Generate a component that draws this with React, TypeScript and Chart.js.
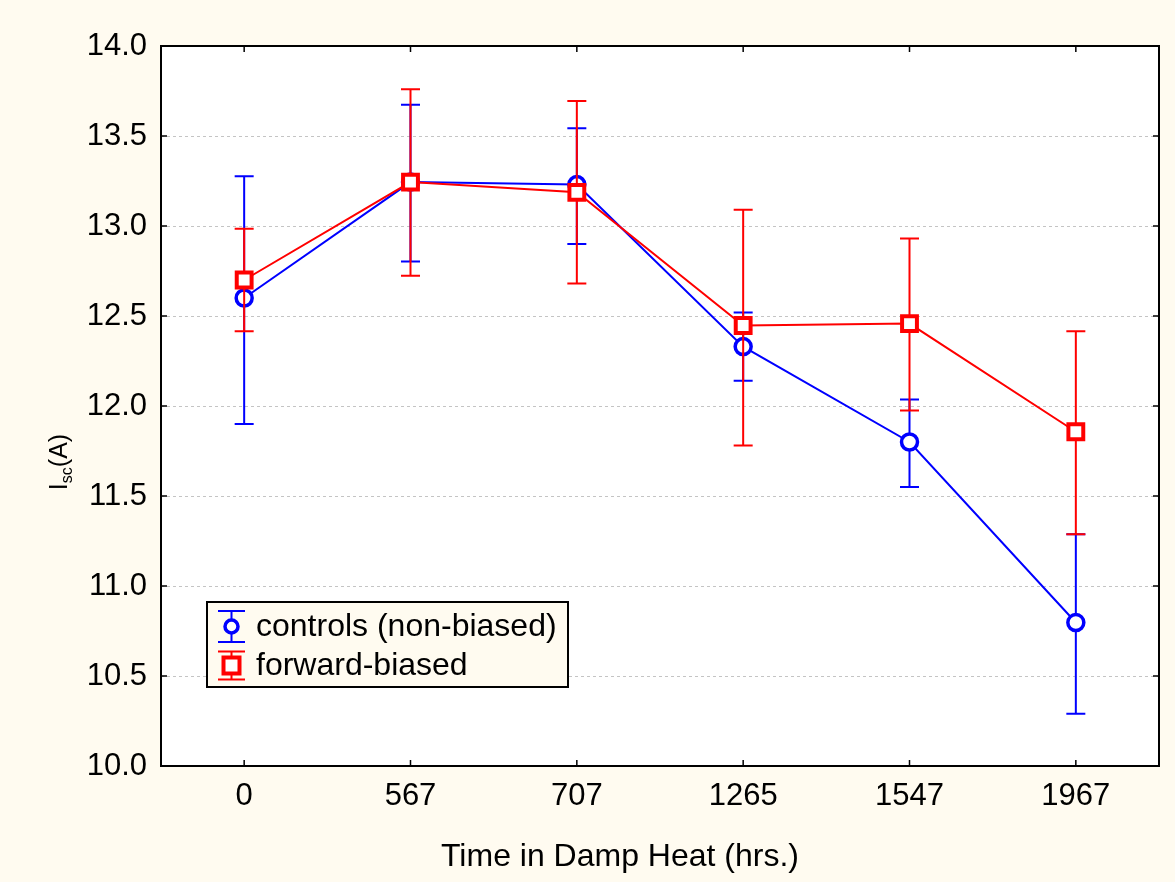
import React, { useEffect, useRef } from "react";
import { Chart, registerables } from "chart.js";

Chart.register(...registerables);

const categories = ["0", "567", "707", "1265", "1547", "1967"];

const controlsLabel = "controls (non-biased)";
const controlsMean = [12.6, 13.244, 13.23, 12.33, 11.8, 10.797];
const controlsLow = [11.9, 12.803, 12.9, 12.14, 11.55, 10.29];
const controlsHigh = [13.277, 13.673, 13.543, 12.52, 12.036, 11.287];

const biasedLabel = "forward-biased";
const biasedMean = [12.7, 13.244, 13.187, 12.447, 12.458, 11.857];
const biasedLow = [12.415, 12.724, 12.68, 11.78, 11.975, 11.287];
const biasedHigh = [12.985, 13.76, 13.695, 13.09, 12.93, 12.415];

const yTicks = [10.0, 10.5, 11.0, 11.5, 12.0, 12.5, 13.0, 13.5, 14.0];

const xTitle = "Time in Damp Heat (hrs.)";
const yTitleMain = "I";
const yTitleSub = "sc";
const yTitleUnit = "(A)";

const BG = "#fffbf0";
const BLUE = "#0000ff";
const RED = "#ff0000";
const FONT = "'Liberation Sans', Arial, sans-serif";

const lows = [controlsLow, biasedLow];
const highs = [controlsHigh, biasedHigh];

const customPlugin = {
  id: "custom",
  beforeDraw(chart: any) {
    const { ctx, chartArea } = chart;
    ctx.save();
    ctx.fillStyle = BG;
    ctx.fillRect(0, 0, chart.width, chart.height);
    ctx.fillStyle = "#ffffff";
    ctx.fillRect(chartArea.left, chartArea.top, chartArea.right - chartArea.left, chartArea.bottom - chartArea.top);
    ctx.restore();
  },
  beforeDatasetsDraw(chart: any) {
    const { ctx, chartArea } = chart;
    const y = chart.scales.y;
    ctx.save();
    ctx.strokeStyle = "#c4c4c4";
    ctx.lineWidth = 1;
    ctx.setLineDash([3, 3]);
    yTicks.forEach((v) => {
      if (v <= y.min || v >= y.max) return;
      const py = Math.round(y.getPixelForValue(v)) + 0.5;
      ctx.beginPath();
      ctx.moveTo(chartArea.left, py);
      ctx.lineTo(chartArea.right, py);
      ctx.stroke();
    });
    ctx.restore();
  },
  beforeDatasetDraw(chart: any, args: any) {
    const { ctx } = chart;
    const i = args.index;
    const ds = chart.data.datasets[i];
    const x = chart.scales.x;
    const y = chart.scales.y;
    ctx.save();
    ctx.strokeStyle = ds.borderColor;
    ctx.lineWidth = 2;
    const cap = 9.5;
    lows[i].forEach((lo: number, k: number) => {
      const hi = highs[i][k];
      const px = x.getPixelForValue(k);
      const pl = y.getPixelForValue(lo);
      const ph = y.getPixelForValue(hi);
      ctx.beginPath();
      ctx.moveTo(px, pl);
      ctx.lineTo(px, ph);
      ctx.moveTo(px - cap, pl);
      ctx.lineTo(px + cap, pl);
      ctx.moveTo(px - cap, ph);
      ctx.lineTo(px + cap, ph);
      ctx.stroke();
    });
    ctx.restore();
  },
  afterDraw(chart: any) {
    const { ctx, chartArea } = chart;
    const { left, right, top, bottom } = chartArea;
    const x = chart.scales.x;
    const y = chart.scales.y;
    ctx.save();
    // frame
    ctx.strokeStyle = "#000000";
    ctx.lineWidth = 2;
    ctx.strokeRect(left, top, right - left, bottom - top);
    // inward ticks
    ctx.lineWidth = 1.5;
    const tl = 6;
    ctx.beginPath();
    yTicks.forEach((v) => {
      const py = y.getPixelForValue(v);
      ctx.moveTo(left, py);
      ctx.lineTo(left + tl, py);
      ctx.moveTo(right, py);
      ctx.lineTo(right - tl, py);
    });
    categories.forEach((_, k) => {
      const px = x.getPixelForValue(k);
      ctx.moveTo(px, bottom);
      ctx.lineTo(px, bottom - tl);
      ctx.moveTo(px, top);
      ctx.lineTo(px, top + tl);
    });
    ctx.stroke();

    // x title
    ctx.fillStyle = "#000000";
    ctx.font = `32px ${FONT}`;
    ctx.textAlign = "center";
    ctx.textBaseline = "alphabetic";
    ctx.fillText(xTitle, 620, 866);

    // y title (rotated)
    ctx.save();
    ctx.translate(67, 462);
    ctx.rotate(-Math.PI / 2);
    const mainFont = `25px ${FONT}`;
    const subFont = `16px ${FONT}`;
    ctx.font = mainFont;
    const w1 = ctx.measureText(yTitleMain).width;
    const w3 = ctx.measureText(yTitleUnit).width;
    ctx.font = subFont;
    const w2 = ctx.measureText(yTitleSub).width;
    const total = w1 + w2 + w3;
    let cx = -total / 2;
    ctx.textAlign = "left";
    ctx.font = mainFont;
    ctx.fillText(yTitleMain, cx, 0);
    cx += w1;
    ctx.font = subFont;
    ctx.fillText(yTitleSub, cx, 5);
    cx += w2;
    ctx.font = mainFont;
    ctx.fillText(yTitleUnit, cx, 0);
    ctx.restore();

    // legend
    const lx = 207, ly = 602, lw = 361, lh = 85;
    ctx.fillStyle = BG;
    ctx.fillRect(lx, ly, lw, lh);
    ctx.strokeStyle = "#000000";
    ctx.lineWidth = 2;
    ctx.strokeRect(lx, ly, lw, lh);
    const entries = [
      { label: controlsLabel, color: BLUE, style: "circle", cy: 626.5, half: 15.5 },
      { label: biasedLabel, color: RED, style: "rect", cy: 665.5, half: 14 },
    ];
    entries.forEach((e) => {
      const mx = 231.5;
      ctx.strokeStyle = e.color;
      ctx.lineWidth = 2;
      ctx.beginPath();
      ctx.moveTo(mx, e.cy - e.half);
      ctx.lineTo(mx, e.cy + e.half);
      ctx.moveTo(mx - 13.5, e.cy - e.half);
      ctx.lineTo(mx + 13.5, e.cy - e.half);
      ctx.moveTo(mx - 13.5, e.cy + e.half);
      ctx.lineTo(mx + 13.5, e.cy + e.half);
      ctx.stroke();
      ctx.fillStyle = "#ffffff";
      ctx.beginPath();
      if (e.style === "circle") {
        ctx.lineWidth = 3.5;
        ctx.arc(mx, e.cy, 6.5, 0, Math.PI * 2);
      } else {
        ctx.lineWidth = 4;
        ctx.rect(mx - 8, e.cy - 8, 16, 16);
      }
      ctx.fill();
      ctx.stroke();
      ctx.fillStyle = "#000000";
      ctx.font = `32px ${FONT}`;
      ctx.textAlign = "left";
      ctx.textBaseline = "middle";
      ctx.fillText(e.label, 256, e.cy + 1);
    });
    ctx.restore();
  },
};

export default function App() {
  const canvasRef = useRef<HTMLCanvasElement | null>(null);

  useEffect(() => {
    document.body.style.margin = "0";
    document.body.style.background = BG;
    const canvas = canvasRef.current;
    if (!canvas) return;
    const chart = new Chart(canvas, {
      type: "line",
      data: {
        labels: categories,
        datasets: [
          {
            label: controlsLabel,
            data: controlsMean,
            borderColor: BLUE,
            backgroundColor: BLUE,
            borderWidth: 2,
            pointStyle: "circle",
            pointRadius: 8,
            pointBorderWidth: 3.5,
            pointBackgroundColor: "#ffffff",
            pointBorderColor: BLUE,
            tension: 0,
            order: 2,
          },
          {
            label: biasedLabel,
            data: biasedMean,
            borderColor: RED,
            backgroundColor: RED,
            borderWidth: 2,
            pointStyle: "rect",
            pointRadius: 10.5,
            pointBorderWidth: 4,
            pointBackgroundColor: "#ffffff",
            pointBorderColor: RED,
            tension: 0,
            order: 1,
          },
        ],
      },
      options: {
        animation: false,
        responsive: false,
        devicePixelRatio: 1,
        layout: { padding: { top: 46, right: 16, left: 0, bottom: 0 } },
        plugins: {
          legend: { display: false },
          tooltip: { enabled: false },
          title: { display: false },
        },
        scales: {
          x: {
            type: "category",
            offset: true,
            grid: { display: false, drawTicks: false },
            border: { display: false },
            ticks: {
              color: "#000000",
              font: { family: FONT, size: 31 },
              padding: 12,
              maxRotation: 0,
              autoSkip: false,
            },
            afterFit(scale: any) {
              scale.height = 116;
            },
          },
          y: {
            type: "linear",
            min: 10,
            max: 14,
            grid: { display: false, drawTicks: false },
            border: { display: false },
            ticks: {
              stepSize: 0.5,
              color: "#000000",
              font: { family: FONT, size: 31 },
              padding: 14,
              callback: (v: any) => Number(v).toFixed(1),
            },
            afterFit(scale: any) {
              scale.width = 161;
            },
          },
        },
      },
      plugins: [customPlugin],
    });
    return () => chart.destroy();
  }, []);

  return (
    <canvas
      ref={canvasRef}
      width={1175}
      height={882}
      style={{ display: "block", width: "1175px", height: "882px" }}
    />
  );
}
